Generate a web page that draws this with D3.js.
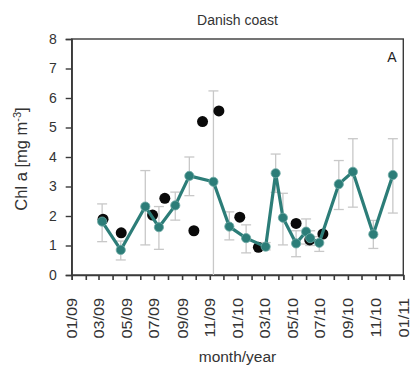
<!DOCTYPE html>
<html>
<head>
<meta charset="utf-8">
<script src="https://cdn.jsdelivr.net/npm/d3@7"></script>
<style>
  html, body { margin: 0; padding: 0; background: #fff; }
  svg { display: block; font-family: "Liberation Sans", Arial, sans-serif; }
</style>
</head>
<body>
<svg id="chart" width="411" height="372"></svg>
<script>
// Monthly-mean Chl a with standard deviation
const sampleDates = ["2009-03-09","2009-04-19","2009-06-12","2009-07-12","2009-08-17","2009-09-17",
  "2009-11-09","2009-12-14","2010-01-20","2010-03-04","2010-03-26","2010-04-11","2010-05-10",
  "2010-06-01","2010-06-10","2010-06-30","2010-08-12","2010-09-12","2010-10-27","2010-12-09"];
const meanChl = [1.81,0.85,2.32,1.62,2.36,3.36,3.16,1.64,1.25,0.96,3.45,1.94,1.07,1.47,1.25,1.09,3.08,3.5,1.38,3.39];
const lowChl  = [1.13,0.51,1.02,0.87,1.86,2.69,0.00,1.19,0.75,0.85,2.80,1.02,0.62,1.05,1.00,0.80,2.22,2.30,0.90,2.10];
const highChl = [2.41,1.15,3.54,2.32,2.81,4.00,6.24,2.14,1.70,1.10,4.10,2.77,1.50,1.90,1.50,1.30,3.88,4.62,1.85,4.62];

// Single observations
const obsDates = ["2009-03-11","2009-04-20","2009-06-28","2009-07-25","2009-09-27","2009-10-16",
  "2009-11-21","2010-01-06","2010-02-16","2010-05-10","2010-06-09","2010-07-08"];
const obsChl = [1.89,1.43,2.03,2.60,1.50,5.20,5.56,1.96,0.94,1.75,1.19,1.39];

const yTicks = [0,1,2,3,4,5,6,7,8];
const title = "Danish coast";
const panelLabel = "A";
const xTitle = "month/year";

const parse = d3.timeParse("%Y-%m-%d");
const svg = d3.select("#chart");
const plotLeft = 71.7, plotRight = 403.3, plotTop = 39, plotBottom = 275;

const x = d3.scaleTime()
  .domain([new Date(2009, 0, 1), new Date(2011, 0, 1)])
  .range([plotLeft, plotRight]);
const y = d3.scaleLinear().domain([0, 8]).range([plotBottom, plotTop]);

const axisColor = "#3a3a3a";
const teal = "#2c7d78";

// frame
svg.append("rect")
  .attr("x", plotLeft).attr("y", plotTop)
  .attr("width", plotRight - plotLeft).attr("height", plotBottom - plotTop)
  .attr("fill", "none").attr("stroke", axisColor).attr("stroke-width", 1.4);

// y axis
const yAxis = svg.append("g")
  .attr("transform", `translate(${plotLeft},0)`)
  .call(d3.axisLeft(y).tickValues(yTicks).tickSize(6).tickPadding(9).tickFormat(d3.format("d")));
yAxis.select(".domain").attr("stroke", axisColor).attr("stroke-width", 1.4);
yAxis.selectAll(".tick line").attr("stroke", axisColor).attr("stroke-width", 1.4);
yAxis.selectAll(".tick text").attr("font-size", 14).attr("fill", "#333")
  .attr("font-family", "'Liberation Sans', Arial, sans-serif");

// x axis: monthly ticks, labels every second month
const months = d3.timeMonth.range(new Date(2009, 0, 1), new Date(2011, 0, 2));
const xAxis = svg.append("g")
  .attr("transform", `translate(0,${plotBottom})`)
  .call(d3.axisBottom(x).tickValues(months).tickSize(5).tickFormat(""));
xAxis.select(".domain").attr("stroke", axisColor).attr("stroke-width", 1.4);
xAxis.selectAll(".tick line").attr("stroke", axisColor).attr("stroke-width", 1.6);

const fmt = d3.timeFormat("%m/%y");
svg.append("g").selectAll("text")
  .data(months.filter(d => d.getMonth() % 2 === 0))
  .join("text")
  .attr("transform", d => `translate(${x(d) + 5.5},298) rotate(-90) scale(1.12,1)`)
  .attr("text-anchor", "end")
  .attr("font-size", 14.5)
  .attr("fill", "#333")
  .text(d => fmt(d));

// error bars
const errG = svg.append("g").attr("stroke", "#c8c8c8").attr("stroke-width", 1.3).attr("fill", "none");
sampleDates.forEach((ds, i) => {
  const cx = x(parse(ds));
  const y0 = y(lowChl[i]), y1 = y(highChl[i]);
  errG.append("line").attr("x1", cx).attr("x2", cx).attr("y1", y0).attr("y2", y1);
  if (lowChl[i] > 0) errG.append("line").attr("x1", cx - 5).attr("x2", cx + 5).attr("y1", y0).attr("y2", y0);
  errG.append("line").attr("x1", cx - 5).attr("x2", cx + 5).attr("y1", y1).attr("y2", y1);
});

// single observations
svg.append("g").selectAll("circle")
  .data(obsDates.map((d, i) => ({ date: parse(d), v: obsChl[i] })))
  .join("circle")
  .attr("cx", d => x(d.date)).attr("cy", d => y(d.v))
  .attr("r", 5.5).attr("fill", "#0a0a0a");

// mean line and markers
const meanData = sampleDates.map((d, i) => ({ date: parse(d), v: meanChl[i] }));
svg.append("path")
  .datum(meanData)
  .attr("d", d3.line().x(d => x(d.date)).y(d => y(d.v)))
  .attr("fill", "none").attr("stroke", teal).attr("stroke-width", 3.2)
  .attr("stroke-linejoin", "round");
svg.append("g").selectAll("circle")
  .data(meanData)
  .join("circle")
  .attr("cx", d => x(d.date)).attr("cy", d => y(d.v))
  .attr("r", 4.6).attr("fill", teal).attr("stroke", "#6fa9a4").attr("stroke-width", 0.8);

// texts
svg.append("text")
  .attr("x", (plotLeft + plotRight) / 2).attr("y", 25)
  .attr("text-anchor", "middle").attr("font-size", 14).attr("fill", "#333")
  .text(title);
svg.append("text")
  .attr("x", 392).attr("y", 62)
  .attr("text-anchor", "middle").attr("font-size", 14).attr("fill", "#222")
  .text(panelLabel);
svg.append("text")
  .attr("x", (plotLeft + plotRight) / 2).attr("y", 362)
  .attr("text-anchor", "middle").attr("font-size", 15.5).attr("fill", "#333")
  .text(xTitle);

const yLab = svg.append("text")
  .attr("transform", "translate(27,159) rotate(-90)")
  .attr("text-anchor", "middle").attr("font-size", 16.5).attr("fill", "#333");
yLab.append("tspan").text("Chl a [mg m");
yLab.append("tspan").attr("font-size", 11).attr("dy", -6).text("-3");
yLab.append("tspan").attr("dy", 6).text("]");
</script>
</body>
</html>
